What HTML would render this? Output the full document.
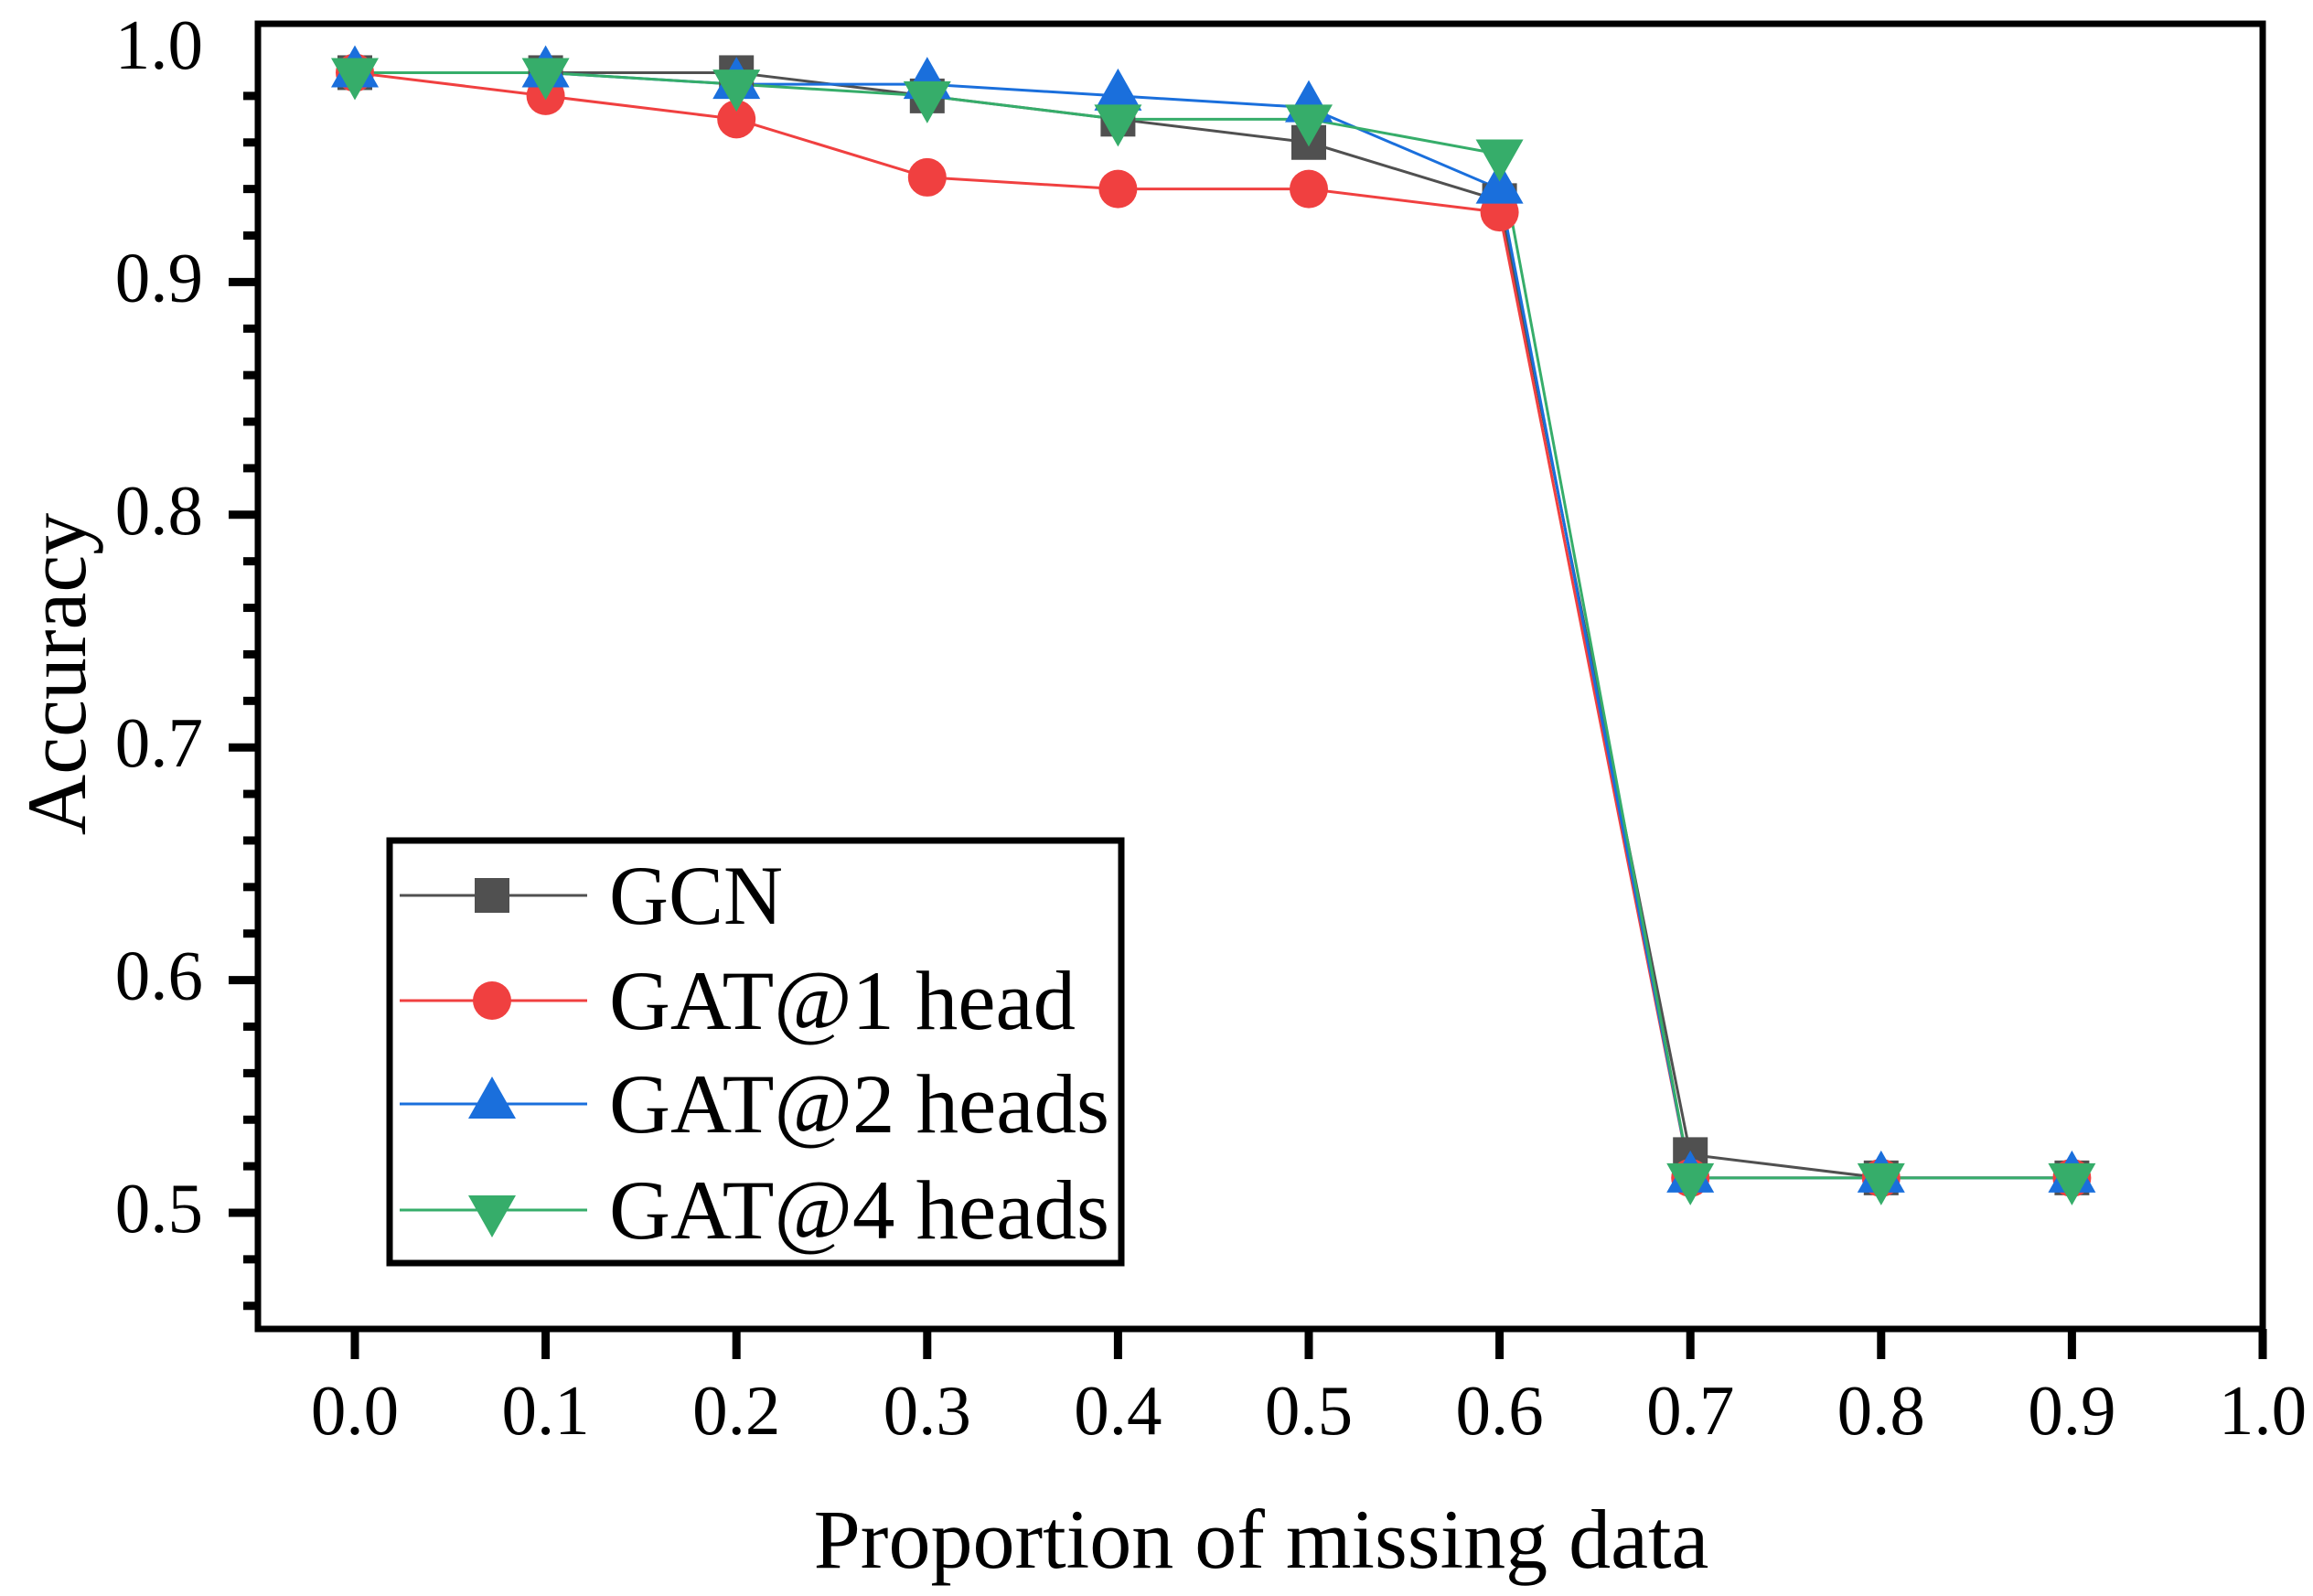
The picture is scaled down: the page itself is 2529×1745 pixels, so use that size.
<!DOCTYPE html>
<html><head><meta charset="utf-8"><style>
html,body{margin:0;padding:0;background:#fff}
svg text{font-family:"Liberation Serif","Times New Roman",serif;fill:#000}
</style></head><body>
<svg id="chart" width="2529" height="1740" viewBox="0 0 2529 1740" xmlns="http://www.w3.org/2000/svg">
<rect x="0" y="0" width="2529" height="1740" fill="#fff"/>
<g id="plot"></g>
<text x="1379" y="1714" font-size="92" text-anchor="middle">Proportion of missing data</text>
<text transform="translate(93,737) rotate(-90)" font-size="92" text-anchor="middle">Accuracy</text>
</svg>
<script>
const xTicks = [0.0,0.1,0.2,0.3,0.4,0.5,0.6,0.7,0.8,0.9,1.0];
const xTickLabels = ["0.0","0.1","0.2","0.3","0.4","0.5","0.6","0.7","0.8","0.9","1.0"];
const yTicks = [0.5,0.6,0.7,0.8,0.9,1.0];
const yTickLabels = ["0.5","0.6","0.7","0.8","0.9","1.0"];
const categories = [0.0,0.1,0.2,0.3,0.4,0.5,0.6,0.7,0.8,0.9];
const gcn = [0.99,0.99,0.99,0.98,0.97,0.96,0.935,0.525,0.515,0.515];
const gat1 = [0.99,0.98,0.97,0.945,0.94,0.94,0.93,0.515,0.515,0.515];
const gat2 = [0.99,0.99,0.985,0.985,0.98,0.975,0.94,0.515,0.515,0.515];
const gat4 = [0.99,0.99,0.985,0.98,0.97,0.97,0.955,0.515,0.515,0.515];
const seriesNames = ["GCN","GAT@1 head","GAT@2 heads","GAT@4 heads"];

const NS="http://www.w3.org/2000/svg";
const L=282,R=2474,T=26,B=1453;
function xs(v){return 388+v*2086;}
function ys(v){return 54+(1-v)*2544;}
const g=document.getElementById('plot');
function mk(tag,attrs,parent){const e=document.createElementNS(NS,tag);for(const k in attrs)e.setAttribute(k,attrs[k]);(parent||g).appendChild(e);return e;}

const colors=["#505050","#f04040","#1a6fdc","#36ad6a"];
const shapes=["square","circle","up","down"];
const data=[gcn,gat1,gat2,gat4];
const keys=["gcn","gat1","gat2","gat4"];
function marker(shape,cx,cy,color,parent,name){
  let e;
  if(shape==="square") e=mk('rect',{x:cx-19,y:cy-19,width:38,height:38,fill:color},parent);
  else if(shape==="circle") e=mk('ellipse',{cx:cx,cy:cy,rx:21,ry:21,fill:color},parent);
  else if(shape==="up") e=mk('polygon',{points:`${cx},${cy-30} ${cx+26},${cy+16} ${cx-26},${cy+16}`,fill:color},parent);
  else e=mk('polygon',{points:`${cx},${cy+30} ${cx+26},${cy-16} ${cx-26},${cy-16}`,fill:color},parent);
  
  
  return e;
}
for(let s=0;s<4;s++){
  const sg=mk('g',{});
  
  
  const pts=categories.map((c,i)=>xs(c)+','+ys(data[s][i])).join(' ');
  const pl=mk('polyline',{points:pts,fill:'none',stroke:colors[s],'stroke-width':3},sg);
  
  
}
for(let s=0;s<4;s++){
  const sg=mk('g',{});
  
  
  categories.forEach((c,i)=>{marker(shapes[s],xs(c),ys(data[s][i]),colors[s],sg,keys[s]+'-point');});
}
const fr=mk('rect',{x:L,y:T,width:R-L,height:B-T,fill:'none',stroke:'#000','stroke-width':7});


xTicks.forEach((v,i)=>{
  const t=mk('line',{x1:xs(v),x2:xs(v),y1:B,y2:B+33,stroke:'#000','stroke-width':9});
  
  
  const tx=mk('text',{x:xs(v),y:1568,'font-size':77,'text-anchor':'middle'});
  tx.textContent=xTickLabels[i];
  
  
});
for(let k=0;k<=26;k++){
  const v=0.46+k*0.02;
  const major=(k%5===2);
  const t=mk('line',{x1:major?L-32:L-16,x2:L,y1:ys(v),y2:ys(v),stroke:'#000','stroke-width':9});
  
  
}
yTicks.forEach((v,i)=>{
  const tx=mk('text',{x:222,y:ys(v)+21,'font-size':77,'text-anchor':'end'});
  tx.textContent=yTickLabels[i];
  
  
});
const lg=mk('g',{});


const lb=mk('rect',{x:426,y:919,width:800,height:462,fill:'#fff',stroke:'#000','stroke-width':7},lg);


const ly=[979,1094,1207,1323];
const lw=[190,510,547,547];
for(let s=0;s<4;s++){
  const eg=mk('g',{},lg);
  
  
  const ln=mk('line',{x1:437,x2:642,y1:ly[s],y2:ly[s],stroke:colors[s],'stroke-width':3},eg);
  
  
  marker(shapes[s],538,ly[s],colors[s],eg,'legend-marker');
  const tx=mk('text',{x:666,y:ly[s]+31,'font-size':92,textLength:lw[s],lengthAdjust:'spacingAndGlyphs'},eg);
  tx.textContent=seriesNames[s];
  
  
}
</script>
</body></html>
